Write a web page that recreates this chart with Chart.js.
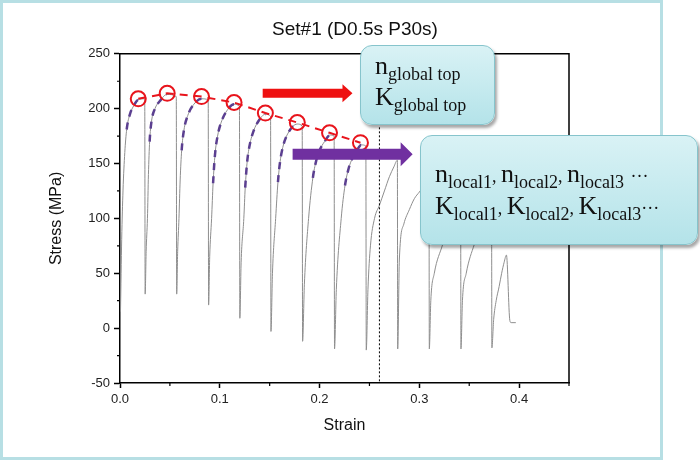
<!DOCTYPE html>
<html>
<head>
<meta charset="utf-8">
<script src="https://cdn.jsdelivr.net/npm/chart.js@4.4.1/dist/chart.umd.min.js"></script>
<style>
  html, body { margin: 0; padding: 0; background: #fff; }
  #wrap { position: relative; width: 700px; height: 461px; overflow: hidden; }
  #frame { position: absolute; left: 0; top: 0; width: 663px; height: 460px; box-sizing: border-box;
    border: 3px solid #b7dfe4; pointer-events: none; }
  canvas { position: absolute; left: 0; top: 0; }
  .note { position: absolute; box-sizing: border-box; border: 1px solid #86c4cc; border-radius: 12px;
    background: linear-gradient(#d9f2f5, #b4e3e9); box-shadow: 2px 3px 3px rgba(0,0,0,0.35);
    font-family: 'Liberation Serif', 'Times New Roman', serif; color: #111; }
  .note .ln { position: absolute; left: 14px; white-space: nowrap; font-size: 26px; line-height: 25px; }
  .note sub { font-size: 18px; vertical-align: baseline; position: relative; top: 6px; }
  .note .cm { font-size: 18px; }
</style>
</head>
<body>
<div id="wrap">
  <div id="frame"></div>
  <canvas id="c" width="700" height="461"></canvas>
  <div class="note" style="left:360px; top:45px; width:135px; height:80px;">
    <div class="ln" style="top:7px;">n<sub>global top</sub></div>
    <div class="ln" style="top:38px;">K<sub>global top</sub></div>
  </div>
  <div class="note" style="left:420px; top:135px; width:278px; height:110px;">
    <div class="ln" style="top:25px;">n<sub>local1</sub><span class="cm">, </span>n<sub>local2</sub><span class="cm">, </span>n<sub>local3</sub> <span class="cm">···</span></div>
    <div class="ln" style="top:57px;">K<sub>local1</sub><span class="cm">, </span>K<sub>local2</sub><span class="cm">, </span>K<sub>local3</sub><span class="cm">···</span></div>
  </div>
</div>
<script>
// stress-strain record, 13 load/unload cycles
const strain = [
  0.0005, 0.0017, 0.003, 0.0048, 0.0067, 0.010, 0.014, 0.018, 0.0248,
  0.0252, 0.0262, 0.0275, 0.0285, 0.0297, 0.0315, 0.035, 0.040, 0.047, 0.0564,
  0.0568, 0.0578, 0.0591, 0.0603, 0.0618, 0.064, 0.068, 0.074, 0.0817, 0.0884,
  0.0888, 0.0899, 0.0918, 0.0933, 0.0952, 0.098, 0.102, 0.107, 0.1143, 0.1197,
  0.1201, 0.1214, 0.1241, 0.1255, 0.1275, 0.130, 0.134, 0.139, 0.1457, 0.1509,
  0.1513, 0.1528, 0.156, 0.1583, 0.1605, 0.1635, 0.168, 0.1777, 0.1826,
  0.183, 0.1848, 0.189, 0.1933, 0.1965, 0.200, 0.205, 0.2105, 0.2146,
  0.215, 0.2168, 0.2217, 0.2255, 0.229, 0.233, 0.2375, 0.2417, 0.2464,
  0.2468, 0.2485, 0.251, 0.2551, 0.260, 0.265, 0.270, 0.2745, 0.278,
  0.2783, 0.280, 0.2845, 0.290, 0.295, 0.300, 0.305, 0.3097,
  0.310, 0.3115, 0.315, 0.3233, 0.328, 0.333, 0.338, 0.3414,
  0.3417, 0.3432, 0.347, 0.355, 0.360, 0.365, 0.370, 0.3724,
  0.3727, 0.3745, 0.377, 0.380, 0.3825, 0.385, 0.3873, 0.3907, 0.392, 0.3967
];
const stress = [
  15, 81, 125, 160, 181, 195, 203, 208, 209,
  31, 70, 100, 140, 170, 188, 200, 207, 213, 211,
  31, 70, 100, 135, 162, 180, 194, 204, 209, 208,
  21, 65, 100, 132, 158, 176, 189, 198, 204, 202,
  9, 60, 100, 128, 152, 167, 180, 189, 195, 193,
  -3, 50, 100, 133, 152, 166, 177, 186, 184,
  -12, 40, 100, 137, 152, 162, 170, 176, 175,
  -19, 35, 100, 130, 145, 155, 162, 167, 166,
  -20, 35, 75, 100, 112, 125, 138, 147, 153,
  -19, 63, 95, 108, 118, 124, 130, 134,
  -19, 25, 50, 76, 90, 102, 112, 117,
  -19, 25, 50, 76, 88, 98, 106, 109,
  -18, 8, 25, 38, 50, 60, 66.6, 7, 5, 5
];

// strain ranges of the local fits (purple dashes)
const localFitRanges = [
  [0.0067, 0.018], [0.0297, 0.047], [0.0618, 0.0817], [0.0933, 0.1143],
  [0.1255, 0.1457], [0.1583, 0.1777], [0.1933, 0.2105], [0.2255, 0.2417]
];

// global top points (red circles)
const topStrain = [0.0183, 0.0473, 0.0817, 0.1143, 0.1457, 0.1777, 0.210, 0.241];
const topStress = [209, 214, 211, 205.6, 196, 187.4, 178, 169];

const xTicks = [0, 0.1, 0.2, 0.3, 0.4];
const yTicks = [-50, 0, 50, 100, 150, 200, 250];
const xMinor = [0.05, 0.15, 0.25, 0.35, 0.45];
const yMinor = [-25, 25, 75, 125, 175, 225];

const dividerStrain = [0.26, 0.26];
const dividerStress = [183, -50];

// arrows in data coords: [x1, x2, y]
const redArrow = [0.143, 0.233, 214];
const purpleArrow = [0.173, 0.2933, 158.5];

const curve = strain.map((x, i) => ({ x: x, y: stress[i] }));
const tops = topStrain.map((x, i) => ({ x: x, y: topStress[i] }));
const divider = dividerStrain.map((x, i) => ({ x: x, y: dividerStress[i] }));

const inFit = x => localFitRanges.some(r => x >= r[0] - 1e-9 && x <= r[1] + 1e-9);

Chart.defaults.font.family = "'Liberation Sans', Arial, sans-serif";
Chart.defaults.color = '#111';

const extras = {
  id: 'extras',
  afterDraw(chart) {
    const ctx = chart.ctx;
    const a = chart.chartArea;
    const xs = chart.scales.x, ys = chart.scales.y;
    ctx.save();
    ctx.strokeStyle = '#000';
    ctx.lineWidth = 1.5;
    // top and right frame of the plot
    ctx.beginPath();
    ctx.moveTo(a.left, a.top);
    ctx.lineTo(a.right, a.top);
    ctx.lineTo(a.right, a.bottom);
    ctx.stroke();
    // minor ticks
    ctx.lineWidth = 1.2;
    ctx.beginPath();
    xMinor.forEach(v => {
      const px = xs.getPixelForValue(v);
      ctx.moveTo(px, a.bottom);
      ctx.lineTo(px, a.bottom + 3);
    });
    yMinor.forEach(v => {
      const py = ys.getPixelForValue(v);
      ctx.moveTo(a.left, py);
      ctx.lineTo(a.left - 3, py);
    });
    ctx.stroke();

    function arrow(def, body, headLen, headHalf, color) {
      const x1 = xs.getPixelForValue(def[0]);
      const x2 = xs.getPixelForValue(def[1]);
      const y = ys.getPixelForValue(def[2]);
      ctx.fillStyle = color;
      ctx.beginPath();
      ctx.moveTo(x1, y - body);
      ctx.lineTo(x2 - headLen, y - body);
      ctx.lineTo(x2 - headLen, y - headHalf);
      ctx.lineTo(x2, y);
      ctx.lineTo(x2 - headLen, y + headHalf);
      ctx.lineTo(x2 - headLen, y + body);
      ctx.lineTo(x1, y + body);
      ctx.closePath();
      ctx.fill();
    }
    arrow(redArrow, 4.5, 10, 9, '#ee1111');
    arrow(purpleArrow, 5.5, 12, 12, '#7030a0');
    ctx.restore();
  }
};

new Chart(document.getElementById('c'), {
  type: 'line',
  data: {
    datasets: [
      {
        label: 'Strain-stress',
        data: curve,
        borderColor: '#8e8e8e',
        borderWidth: 1,
        pointRadius: 0,
        cubicInterpolationMode: 'monotone',
        order: 4
      },
      {
        label: 'Local fit',
        data: curve,
        borderColor: 'rgba(0,0,0,0)',
        borderWidth: 2.5,
        borderDash: [7, 6],
        pointRadius: 0,
        cubicInterpolationMode: 'monotone',
        segment: {
          borderColor: c => (inFit(strain[c.p0DataIndex]) && inFit(strain[c.p1DataIndex])) ? '#5b3f90' : 'rgba(0,0,0,0)'
        },
        order: 3
      },
      {
        label: 'Divider',
        data: divider,
        borderColor: '#000',
        borderWidth: 1,
        borderDash: [2, 2],
        pointRadius: 0,
        order: 2
      },
      {
        label: 'Global top',
        data: tops,
        borderColor: '#e8141c',
        borderWidth: 2,
        borderDash: [8, 6],
        pointRadius: 7.5,
        pointBorderWidth: 2,
        pointBorderColor: '#e8141c',
        pointBackgroundColor: 'rgba(0,0,0,0)',
        order: 1
      }
    ]
  },
  options: {
    responsive: false,
    animation: false,
    layout: { padding: { left: 10, right: 0, top: 0, bottom: 0 } },
    plugins: {
      legend: { display: false },
      tooltip: { enabled: false },
      title: {
        display: true,
        text: 'Set#1 (D0.5s P30s)',
        color: '#111',
        font: { size: 19, weight: 'normal' },
        padding: { top: 18, bottom: 13 }
      }
    },
    scales: {
      x: {
        type: 'linear',
        min: 0,
        max: 0.45,
        afterBuildTicks: s => { s.ticks = xTicks.map(v => ({ value: v })); },
        afterFit: s => { s.height = 78; },
        ticks: { callback: v => v.toFixed(1), color: '#222', font: { size: 13 }, padding: 4, maxRotation: 0 },
        grid: { drawOnChartArea: false, tickLength: 5, tickColor: '#000', tickWidth: 1.5 },
        border: { color: '#000', width: 1.5 },
        title: { display: true, text: 'Strain', color: '#111', font: { size: 16 }, padding: { top: 0, bottom: 26 } }
      },
      y: {
        type: 'linear',
        min: -50,
        max: 250,
        afterBuildTicks: s => { s.ticks = yTicks.map(v => ({ value: v })); },
        afterFit: s => { s.width = 110; },
        ticks: { color: '#222', font: { size: 13 }, padding: 4 },
        grid: { drawOnChartArea: false, tickLength: 6, tickColor: '#000', tickWidth: 1.5 },
        border: { color: '#000', width: 1.5 },
        title: { display: true, text: 'Stress (MPa)', color: '#111', font: { size: 16 }, padding: { top: 37, bottom: 0 } }
      },
      y2: {
        type: 'linear',
        position: 'right',
        display: true,
        grid: { display: false },
        ticks: { display: false },
        border: { display: false },
        afterFit: s => { s.width = 131; }
      }
    }
  },
  plugins: [extras]
});
</script>
</body>
</html>
